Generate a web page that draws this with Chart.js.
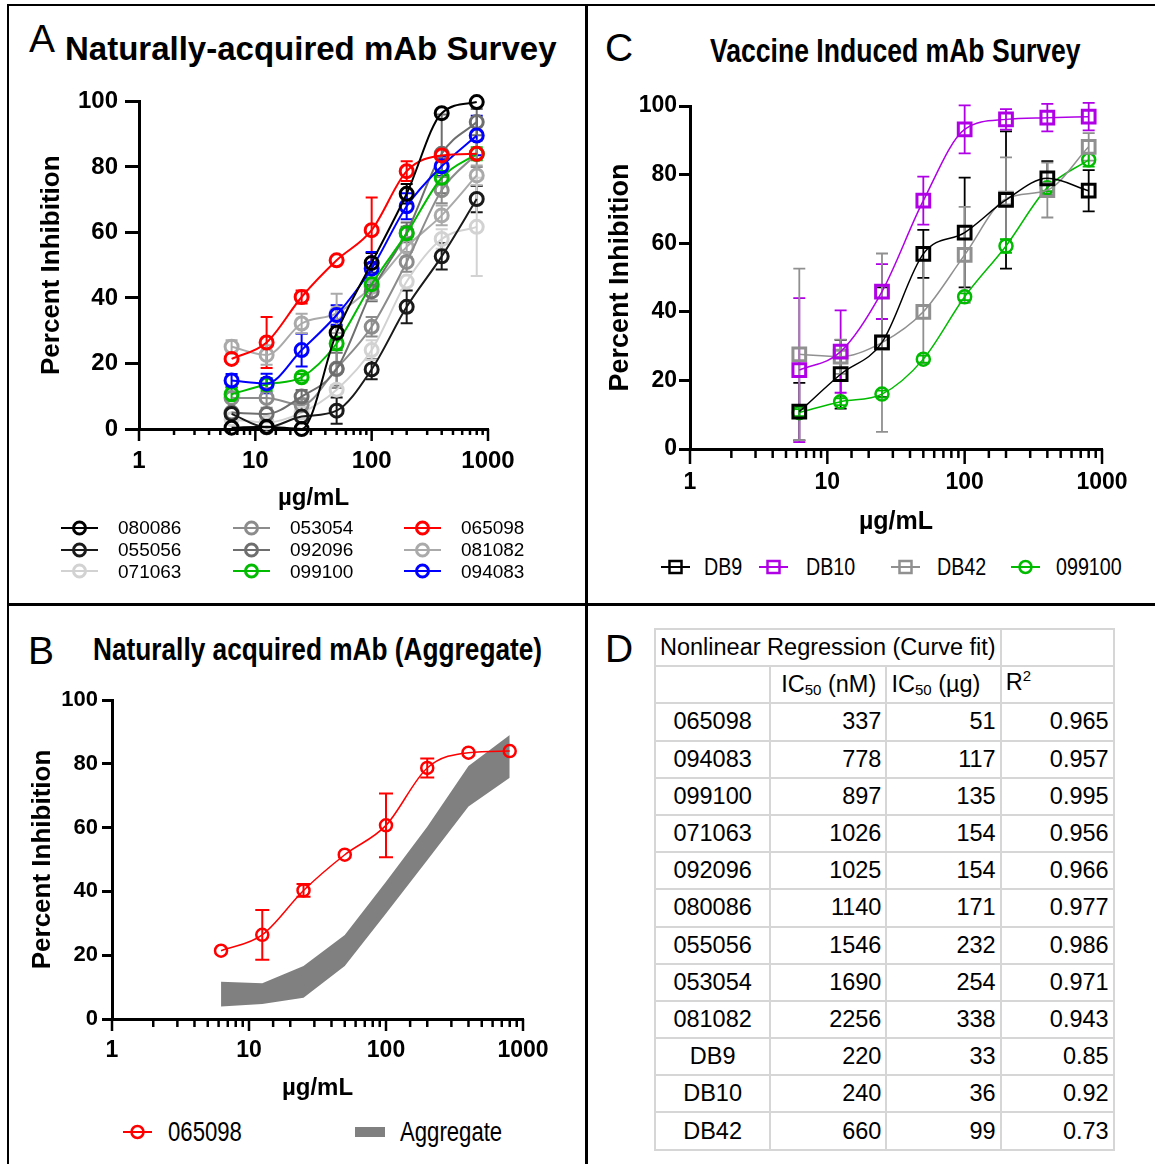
<!DOCTYPE html>
<html>
<head>
<meta charset="utf-8">
<script src="https://cdn.jsdelivr.net/npm/chart.js@4.4.1/dist/chart.umd.min.js"></script>
<style>
body { margin: 0; background: #fff; }
#page { position: relative; width: 1155px; height: 1164px; overflow: hidden; font-family: "Liberation Sans", Arial, sans-serif; color: #000; }
.ln { position: absolute; background: #000; }
.t { position: absolute; white-space: nowrap; line-height: 1; }
.nar { transform: scaleX(0.82); transform-origin: 0 0; }
canvas { position: absolute; }
.leg { position: absolute; display: flex; align-items: center; white-space: nowrap; }
.leg svg { display: block; }
#tbl { position: absolute; left: 654px; top: 628px; border-collapse: collapse; font-size: 23.5px; table-layout: fixed; }
#tbl td { border: 2px solid #d6d6d6; padding: 0 4px; text-align: right; white-space: nowrap; height: 35.2px; }
#tbl td.nm { text-align: center; }
#tbl td.hd { text-align: left; padding-left: 4px; }
#tbl sub { font-size: 15px; vertical-align: -3px; }
#tbl sup { font-size: 15px; vertical-align: 9px; }
</style>
</head>
<body>
<div id="page">
  <div class="ln" style="left:7px;top:4px;width:1148px;height:2px"></div>
  <div class="ln" style="left:7px;top:4px;width:2px;height:1160px"></div>
  <div class="ln" style="left:585px;top:4px;width:3px;height:1160px"></div>
  <div class="ln" style="left:7px;top:603px;width:1148px;height:3px"></div>

  <div class="t" style="left:29px;top:19px;font-size:39px">A</div>
  <div class="t" style="left:65px;top:32px;font-size:33px;font-weight:bold">Naturally-acquired mAb Survey</div>
  <div class="t" style="left:605px;top:28px;font-size:39px">C</div>
  <div class="t nar" style="left:710px;top:34px;font-size:33px;font-weight:bold;transform:scaleX(0.805)">Vaccine Induced mAb Survey</div>
  <div class="t" style="left:28px;top:631px;font-size:39px">B</div>
  <div class="t nar" style="left:93px;top:633px;font-size:32px;font-weight:bold">Naturally acquired mAb (Aggregate)</div>
  <div class="t" style="left:605px;top:629px;font-size:39px">D</div>

  <canvas id="chartA" width="560" height="440" style="left:10px;top:80px"></canvas>
  <canvas id="chartB" width="560" height="430" style="left:10px;top:680px"></canvas>
  <canvas id="chartC" width="560" height="460" style="left:592px;top:90px"></canvas>
  <div id="legends"></div>
  <table id="tbl">
    <colgroup><col style="width:114px"><col style="width:115px"><col style="width:113px"><col style="width:113px"></colgroup>
    <tbody id="tbody"></tbody>
  </table>
</div>
<script>
// concentrations (ug/mL), same for every panel
var doses = [6.25, 12.5, 25, 50, 100, 200, 400, 800];

// Panel A - naturally acquired mAbs (% inhibition)
var s080086 = [0.4, 0.7, 0, 29.4, 50.7, 71.8, 96.4, 99.8];
var s055056 = [4.6, 0.5, 3.8, 5.6, 18.2, 37.3, 52.7, 70.2];
var s071063 = [3, 2, 5, 12, 24.1, 45, 58, 61.7];
var s053054 = [9.5, 9.5, 7.3, 18.5, 31.2, 51, 72.9, 84];
var s092096 = [5, 4.6, 9.9, 18.3, 42, 60, 84, 93.7];
var s099100 = [10.6, 13.6, 15.8, 26.1, 44.2, 59.7, 76.7, 84];
var s065098 = [21.4, 26.4, 40.3, 51.5, 60.7, 78.7, 83.5, 84];
var s081082 = [25.1, 22.6, 32.2, 35.3, 43.4, 55.6, 65.2, 77.4];
var s094083 = [14.8, 13.9, 24.1, 34.8, 49, 68, 80.2, 89.6];

// error bars (+/-) for panel A
var e080086 = [0, 0, 0, 2, 3, 3, 0, 0];
var e055056 = [0, 0, 0, 4, 3, 5, 4, 4];
var e071063 = [0, 0, 0, 0, 3, 0, 3, 15];
var e053054 = [0, 3, 2, 6, 3, 3, 4, 4];
var e092096 = [0, 0, 2, 5, 3, 3, 12, 4];
var e099100 = [2, 2, 1, 2, 2, 2, 2, 2];
var e065098 = [0, 7.8, 2, 0, 10, 3, 0, 0];
var e081082 = [2, 3, 3, 6, 4, 3, 3, 3];
var e094083 = [2, 3, 5, 3, 5, 4, 3, 6];

// Panel B - aggregate band
var aggLow = [3.9, 4.7, 6.7, 16.6, 33.1, 49.8, 66.6, 75.6];
var aggHigh = [11.7, 11.2, 16.6, 26.3, 43, 60.3, 79.3, 89];

// Panel C - vaccine induced mAbs
var DB9 = [10.9, 21.8, 31.1, 56.9, 63.1, 72.6, 78.9, 75.3];
var DB10 = [23, 28.4, 45.9, 72.4, 93.2, 96.1, 96.6, 96.9];
var DB42 = [27.6, 26.9, 31, 40, 56.6, 73, 75.5, 88.1];
var v099100 = [10.6, 13.8, 16, 26.2, 44.4, 59.2, 76.2, 84.3];
var eDB9 = [8.4, 10, 16, 7, 16, 20, 5, 6];
var eDB10 = [21, 12, 8, 7, 7, 3, 4, 4];
var eDB42 = [25, 5, 26, 15, 14, 12, 8, 4];
var ev099100 = [1, 1, 1, 1, 1, 2, 1, 2];

// Panel D - table
var tNames = ["065098", "094083", "099100", "071063", "092096", "080086", "055056", "053054", "081082", "DB9", "DB10", "DB42"];
var tIC50nM = [337, 778, 897, 1026, 1025, 1140, 1546, 1690, 2256, 220, 240, 660];
var tIC50ug = [51, 117, 135, 154, 154, 171, 232, 254, 338, 33, 36, 99];
var tR2 = ["0.965", "0.957", "0.995", "0.956", "0.966", "0.977", "0.986", "0.971", "0.943", "0.85", "0.92", "0.73"];

var xTicks = [1, 10, 100, 1000];
var yTicks = [0, 20, 40, 60, 80, 100];

var SANS = '"Liberation Sans", Arial, sans-serif';

Chart.defaults.color = '#000';
Chart.defaults.animation = false;

function isPow10(v) {
  var l = Math.log10(v);
  return Math.abs(l - Math.round(l)) < 1e-9;
}

var errorBars = {
  id: 'errorBars',
  beforeDatasetsDraw: function (chart) {
    var ctx = chart.ctx, ys = chart.scales.y;
    chart.data.datasets.forEach(function (ds, i) {
      if (!ds.errors) return;
      var meta = chart.getDatasetMeta(i);
      ctx.save();
      ctx.strokeStyle = ds.borderColor;
      ctx.lineWidth = ds.errWidth || 2;
      ds.errors.forEach(function (e, j) {
        if (!e) return;
        var pt = meta.data[j];
        var v = ds.data[j].y;
        var top = ys.getPixelForValue(v + e), bot = ys.getPixelForValue(Math.max(0, v - e));
        var c = ds.capW || 6;
        ctx.beginPath();
        ctx.moveTo(pt.x, top); ctx.lineTo(pt.x, bot);
        ctx.moveTo(pt.x - c, top); ctx.lineTo(pt.x + c, top);
        ctx.moveTo(pt.x - c, bot); ctx.lineTo(pt.x + c, bot);
        ctx.stroke();
      });
      ctx.restore();
    });
  }
};

var logTicks = {
  id: 'logTicks',
  afterDraw: function (chart, args, opts) {
    var s = chart.scales.x, ctx = chart.ctx, y0 = chart.chartArea.bottom;
    ctx.save();
    ctx.strokeStyle = '#000';
    ctx.lineWidth = opts.width || 2.5;
    s.ticks.forEach(function (t) {
      var px = s.getPixelForValue(t.value);
      ctx.beginPath();
      ctx.moveTo(px, y0);
      ctx.lineTo(px, y0 + (isPow10(t.value) ? opts.major : opts.minor));
      ctx.stroke();
    });
    ctx.restore();
  }
};

function pts(vals) {
  return vals.map(function (v, i) { return { x: doses[i], y: v }; });
}

function series(label, vals, errs, color, o) {
  o = o || {};
  return {
    label: label,
    data: pts(vals),
    errors: errs,
    borderColor: color,
    backgroundColor: color,
    borderWidth: o.lw || 2,
    pointStyle: o.shape || 'circle',
    pointRadius: o.r || 6.5,
    pointBorderWidth: o.pbw || 3,
    pointBackgroundColor: 'rgba(0,0,0,0)',
    pointBorderColor: color,
    errWidth: o.ew || 2,
    capW: o.cap || 6,
    cubicInterpolationMode: 'monotone',
    fill: false,
    clip: false
  };
}

function options(c) {
  return {
    responsive: false,
    devicePixelRatio: 1,
    layout: { padding: c.pad },
    plugins: { legend: { display: false }, tooltip: { enabled: false }, logTicks: c.logTicks },
    scales: {
      x: {
        type: 'logarithmic', min: 1, max: 1000,
        grid: { display: false, drawTicks: true, tickLength: c.xTickLen },
        border: { display: true, width: 3, color: '#000' },
        ticks: {
          autoSkip: false, maxRotation: 0, padding: c.xTickPad, color: '#000', font: c.xTickFont,
          callback: function (v) { return xTicks.indexOf(Math.round(v)) >= 0 && isPow10(v) ? String(Math.round(v)) : ''; }
        },
        title: { display: true, text: 'µg/mL', color: '#000', font: c.xTitleFont, padding: { top: 0, bottom: c.xTitlePad } },
        afterFit: function (s) { s.height = c.xH; }
      },
      y: {
        min: 0, max: 100,
        afterBuildTicks: function (s) { s.ticks = yTicks.map(function (v) { return { value: v }; }); },
        grid: { drawOnChartArea: false, drawTicks: true, tickLength: c.yTickLen, tickWidth: 3, tickColor: '#000' },
        border: { display: true, width: 3, color: '#000' },
        ticks: { padding: c.yTickPad, color: '#000', font: c.yTickFont },
        title: { display: true, text: 'Percent Inhibition', color: '#000', font: c.yTitleFont, padding: { top: c.yTitlePad, bottom: 0 } },
        afterFit: function (s) { s.width = c.yW; }
      }
    }
  };
}

// ---- Panel A ----
var aSeries = [
  ['080086', s080086, e080086, '#000000'],
  ['053054', s053054, e053054, '#8c8c8c'],
  ['065098', s065098, e065098, '#ff0000'],
  ['055056', s055056, e055056, '#1a1a1a'],
  ['092096', s092096, e092096, '#6e6e6e'],
  ['081082', s081082, e081082, '#aaaaaa'],
  ['071063', s071063, e071063, '#d2d2d2'],
  ['099100', s099100, e099100, '#00bb00'],
  ['094083', s094083, e094083, '#0000ff']
];
// draw order: index 0 ends on top
var aDrawOrder = ['080086', '055056', '065098', '094083', '099100', '092096', '053054', '081082', '071063'];
new Chart(document.getElementById('chartA'), {
  type: 'line',
  data: {
    datasets: aDrawOrder.map(function (n) {
      var s = aSeries.filter(function (a) { return a[0] === n; })[0];
      return series(s[0], s[1], s[2], s[3], { lw: 2, r: 6.5, pbw: 3 });
    })
  },
  options: options({
    pad: { left: 0, top: 21, right: 82, bottom: 0 },
    logTicks: { major: 12, minor: 6, width: 2.5 },
    xTickLen: 12, xTickPad: 6, xTickFont: { family: SANS, size: 24, weight: 'bold' },
    xTitleFont: { family: SANS, size: 24, weight: 'bold' }, xTitlePad: 7, xH: 91,
    yTickLen: 14, yTickPad: 7, yTickFont: { family: SANS, size: 24, weight: 'bold' },
    yTitleFont: { family: SANS, size: 26, weight: 'bold' }, yTitlePad: 26, yW: 129
  }),
  plugins: [errorBars, logTicks]
});

// ---- Panel B ----
new Chart(document.getElementById('chartB'), {
  type: 'line',
  data: {
    datasets: [
      series('065098', s065098, e065098, '#ff0000', { lw: 1.5, r: 6, pbw: 2.5, ew: 2, cap: 7 }),
      { label: 'low', data: pts(aggLow), borderWidth: 0, pointRadius: 0, fill: false, tension: 0 },
      { label: 'Aggregate', data: pts(aggHigh), borderWidth: 0, pointRadius: 0, fill: '-1', backgroundColor: '#808080', tension: 0 }
    ]
  },
  options: options({
    pad: { left: 0, top: 20, right: 47, bottom: 0 },
    logTicks: { major: 12, minor: 8, width: 2.5 },
    xTickLen: 12, xTickPad: 6, xTickFont: { family: SANS, size: 23, weight: 'bold' },
    xTitleFont: { family: SANS, size: 24, weight: 'bold' }, xTitlePad: 7, xH: 91,
    yTickLen: 10, yTickPad: 4, yTickFont: { family: SANS, size: 22, weight: 'bold' },
    yTitleFont: { family: SANS, size: 26, weight: 'bold' }, yTitlePad: 17, yW: 102
  }),
  plugins: [errorBars, logTicks]
});

// ---- Panel C ----
var cSeries = [
  ['DB9', DB9, eDB9, '#000000', 'rect'],
  ['DB10', DB10, eDB10, '#b000e6', 'rect'],
  ['DB42', DB42, eDB42, '#909090', 'rect'],
  ['099100', v099100, ev099100, '#00bb00', 'circle']
];
new Chart(document.getElementById('chartC'), {
  type: 'line',
  data: {
    datasets: cSeries.map(function (s) {
      return series(s[0], s[1], s[2], s[3], {
        lw: 1.5, shape: s[4], r: s[4] === 'rect' ? 9 : 6.5, pbw: s[4] === 'rect' ? 3 : 2.5, ew: 1.8, cap: 6
      });
    })
  },
  options: options({
    pad: { left: 0, top: 16, right: 50, bottom: 0 },
    logTicks: { major: 15, minor: 9, width: 2.5 },
    xTickLen: 14, xTickPad: 6, xTickFont: { family: SANS, size: 23, weight: 'bold' },
    xTitleFont: { family: SANS, size: 25, weight: 'bold' }, xTitlePad: 13, xH: 101,
    yTickLen: 11, yTickPad: 2, yTickFont: { family: SANS, size: 23, weight: 'bold' },
    yTitleFont: { family: SANS, size: 27, weight: 'bold' }, yTitlePad: 12, yW: 98
  }),
  plugins: [errorBars, logTicks]
});

// ---- legends (HTML) ----
function markerSvg(color, shape, w, opt) {
  opt = opt || {};
  var h = 18, cy = 9, cx = w / 2, inner;
  if (shape === 'bar') {
    return '<svg width="' + w + '" height="' + h + '"><rect x="0" y="4" width="' + w + '" height="10" fill="' + color + '"/></svg>';
  }
  if (shape === 'rect') {
    var s = opt.side || 12;
    inner = '<rect x="' + (cx - s / 2) + '" y="' + (cy - s / 2) + '" width="' + s + '" height="' + s + '" fill="none" stroke="' + color + '" stroke-width="' + (opt.sw || 2.5) + '"/>';
  } else {
    inner = '<circle cx="' + cx + '" cy="' + cy + '" r="' + (opt.rad || 6) + '" fill="none" stroke="' + color + '" stroke-width="' + (opt.sw || 3) + '"/>';
  }
  return '<svg width="' + w + '" height="' + h + '"><line x1="0" y1="' + cy + '" x2="' + w + '" y2="' + cy + '" stroke="' + color + '" stroke-width="' + (opt.lw || 2) + '"/>' + inner + '</svg>';
}

function legendItem(html, x, cy, textX, fontCss, size, text) {
  return '<div class="leg" style="left:' + x + 'px;top:' + (cy - 9) + 'px;height:18px">' + html + '</div>' +
    '<div class="t ' + fontCss + '" style="left:' + textX + 'px;top:' + (cy - 0.49 * size) + 'px;font-size:' + size + 'px">' + text + '</div>';
}

var legHtml = '';
var aLegCols = [[61, 118], [233, 290], [404, 461]];
var aLegRows = [527.5, 549.5, 571];
aSeries.forEach(function (s, i) {
  var col = aLegCols[i % 3], row = aLegRows[Math.floor(i / 3)];
  legHtml += legendItem(markerSvg(s[3], 'circle', 37, { rad: 6, sw: 3, lw: 2 }), col[0], row, col[1], '', 19, s[0]);
});
var cLegPos = [[661, 704], [759, 806], [891, 937], [1011, 1056]];
cSeries.forEach(function (s, i) {
  legHtml += legendItem(markerSvg(s[3], s[4], 29, { side: 12, rad: 6, sw: 2.5, lw: 2 }), cLegPos[i][0], 567, cLegPos[i][1], 'nar', 24, s[0]);
});
legHtml += legendItem(markerSvg('#ff0000', 'circle', 29, { rad: 6, sw: 2.5, lw: 2 }), 123, 1132, 168, 'nar', 27, '065098');
legHtml += legendItem(markerSvg('#808080', 'bar', 30), 355, 1132, 400, 'nar', 27, 'Aggregate');
document.getElementById('legends').innerHTML = legHtml;

// ---- table D ----
var rows = '<tr><td class="hd" colspan="3">Nonlinear Regression (Curve fit)</td><td></td></tr>' +
  '<tr><td></td><td class="hd" style="padding-left:10px">IC<sub>50</sub> (nM)</td><td class="hd">IC<sub>50</sub> (µg)</td><td class="hd" style="vertical-align:top">R<sup>2</sup></td></tr>';
tNames.forEach(function (n, i) {
  rows += '<tr><td class="nm">' + n + '</td><td>' + tIC50nM[i] + '</td><td>' + tIC50ug[i] + '</td><td>' + tR2[i] + '</td></tr>';
});
document.getElementById('tbody').innerHTML = rows;
</script>
</body>
</html>
